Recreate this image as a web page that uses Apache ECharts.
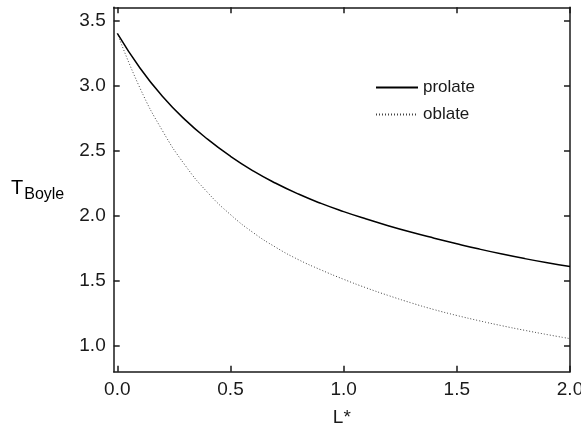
<!DOCTYPE html>
<html>
<head>
<meta charset="utf-8">
<script src="https://cdn.jsdelivr.net/npm/echarts@6/dist/echarts.min.js"></script>
<style>
  html, body { margin: 0; padding: 0; background: #fff; }
  #main { width: 581px; height: 428px; }
</style>
</head>
<body>
<div id="main"></div>
<script>
// L* values and the two T_Boyle curves
const lstar = [0, 0.1, 0.2, 0.3, 0.4, 0.5, 0.6, 0.7, 0.8, 0.9, 1.0,
  1.1, 1.2, 1.3, 1.4, 1.5, 1.6, 1.7, 1.8, 1.9, 2.0];
const prolate = [3.40, 3.134, 2.915, 2.735, 2.585, 2.455, 2.343, 2.248, 2.165, 2.093, 2.03,
  1.973, 1.92, 1.871, 1.826, 1.783, 1.742, 1.704, 1.669, 1.637, 1.608];
const oblate = [3.40, 2.98, 2.65, 2.385, 2.175, 2.007, 1.869, 1.756, 1.661, 1.582, 1.51,
  1.444, 1.384, 1.328, 1.277, 1.232, 1.191, 1.153, 1.118, 1.085, 1.054];
const xTicks = [0, 0.5, 1.0, 1.5, 2.0];
const yTicks = [1.0, 1.5, 2.0, 2.5, 3.0, 3.5];

const font = "Liberation Sans";
const ink = "#1a1a1a";

const myChart = echarts.init(document.getElementById("main"));

const pairs = (ys) => lstar.map((x, i) => [x, ys[i]]);

// shared look for the box axes, ticks point inward
const axisBase = {
  axisLine: { show: true, onZero: false, lineStyle: { color: ink, width: 1.5 } },
  splitLine: { show: false },
};
const tick = (vals) => ({
  show: true, inside: true, length: 6, customValues: vals,
  lineStyle: { color: ink, width: 1.5 },
});

const option = {
  animation: false,
  grid: {
    left: 113.7, right: 11, top: 7.3, bottom: 56.3,
    containLabel: false,
    outerBoundsMode: "none",
  },
  legend: {
    orient: "vertical",
    left: 370,
    top: 74,
    itemWidth: 42,
    itemHeight: 18,
    itemGap: 10,
    itemStyle: { opacity: 0 },
    textStyle: { fontFamily: font, fontSize: 17, color: ink },
    data: ["prolate", "oblate"],
  },
  graphic: [
    {
      type: "text",
      left: 11,
      top: 173,
      style: {
        text: "{t|T}{s|Boyle}",
        rich: {
          t: { fontFamily: font, fontSize: 20, color: ink, lineHeight: 22 },
          s: { fontFamily: font, fontSize: 16, color: ink, lineHeight: 22, padding: [14, 0, 0, 1] },
        },
      },
    },
  ],
  xAxis: [
    {
      ...axisBase,
      type: "value",
      min: -0.016,
      max: 2.0,
      name: "L*",
      nameLocation: "middle",
      nameGap: 37,
      nameTextStyle: { fontFamily: font, fontSize: 19, color: ink },
      axisTick: tick(xTicks),
      axisLabel: {
        customValues: xTicks,
        margin: 9,
        fontFamily: font,
        fontSize: 19,
        color: ink,
        formatter: (v) => v.toFixed(1),
      },
    },
    {
      ...axisBase,
      type: "value",
      position: "top",
      min: -0.016,
      max: 2.0,
      axisTick: tick(xTicks),
      axisLabel: { show: false },
    },
  ],
  yAxis: [
    {
      ...axisBase,
      type: "value",
      min: 0.8,
      max: 3.6,
      axisTick: tick(yTicks),
      axisLabel: {
        customValues: yTicks,
        margin: 8,
        fontFamily: font,
        fontSize: 19,
        color: ink,
        formatter: (v) => v.toFixed(1),
      },
    },
    {
      ...axisBase,
      type: "value",
      position: "right",
      min: 0.8,
      max: 3.6,
      axisTick: tick(yTicks),
      axisLabel: { show: false },
    },
  ],
  series: [
    {
      name: "prolate",
      type: "line",
      data: pairs(prolate),
      smooth: true,
      symbol: "none",
      color: "#000",
      lineStyle: { color: "#000", width: 1.5, type: "solid" },
    },
    {
      name: "oblate",
      type: "line",
      data: pairs(oblate),
      smooth: true,
      symbol: "none",
      color: "#444",
      lineStyle: { color: "#444", width: 1, type: [1, 2] },
    },
  ],
};

myChart.setOption(option);
</script>
</body>
</html>
